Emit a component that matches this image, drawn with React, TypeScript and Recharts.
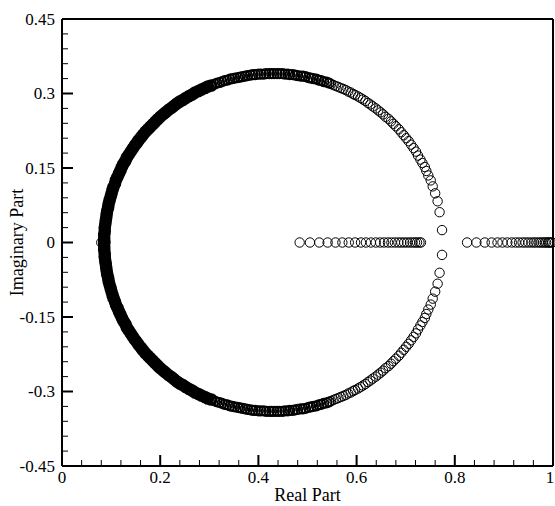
import React from "react"
import { ScatterChart, Scatter, XAxis, YAxis, ReferenceLine } from "recharts"

// upper-half eigenvalues (the lower half are their conjugates)
// outer arc, right side, where the markers are still apart
const ringRe = [0.774, 0.769, 0.765, 0.760, 0.755, 0.751, 0.746, 0.742, 0.739, 0.734, 0.730, 0.725, 0.721, 0.716, 0.711, 0.706, 0.701, 0.696, 0.691, 0.686, 0.680, 0.675, 0.670, 0.665, 0.659, 0.654, 0.649, 0.644, 0.639, 0.633, 0.628, 0.623, 0.618, 0.613, 0.608, 0.603, 0.597, 0.593, 0.588, 0.583, 0.578, 0.573, 0.568, 0.563, 0.558, 0.553, 0.548]
const ringIm = [0.025, 0.061, 0.083, 0.099, 0.113, 0.125, 0.135, 0.144, 0.152, 0.160, 0.167, 0.175, 0.183, 0.190, 0.197, 0.204, 0.210, 0.216, 0.222, 0.228, 0.234, 0.239, 0.244, 0.249, 0.253, 0.258, 0.262, 0.266, 0.270, 0.274, 0.278, 0.281, 0.285, 0.288, 0.291, 0.294, 0.297, 0.299, 0.302, 0.304, 0.307, 0.309, 0.311, 0.313, 0.315, 0.317, 0.319]

// top of the arc, crowded
const midRe = [0.544, 0.539, 0.533, 0.528, 0.523, 0.518, 0.512, 0.507, 0.502, 0.496, 0.491, 0.486, 0.480, 0.475, 0.470, 0.464, 0.460, 0.454, 0.449, 0.443, 0.438, 0.432, 0.427, 0.422, 0.416, 0.411, 0.405, 0.400, 0.394, 0.389, 0.384, 0.378, 0.373, 0.368, 0.363, 0.358, 0.352, 0.347, 0.342, 0.337, 0.331, 0.326, 0.321, 0.316, 0.311]
const midIm = [0.321, 0.323, 0.324, 0.326, 0.327, 0.329, 0.330, 0.331, 0.332, 0.334, 0.335, 0.335, 0.336, 0.337, 0.338, 0.338, 0.339, 0.339, 0.340, 0.340, 0.340, 0.340, 0.340, 0.340, 0.340, 0.339, 0.339, 0.339, 0.338, 0.338, 0.337, 0.336, 0.335, 0.334, 0.333, 0.332, 0.331, 0.330, 0.329, 0.327, 0.326, 0.324, 0.322, 0.321, 0.319]

// left side, markers merge into a solid band
const bandRe = [0.304, 0.297, 0.291, 0.284, 0.278, 0.271, 0.265, 0.259, 0.252, 0.246, 0.240, 0.234, 0.228, 0.223, 0.217, 0.211, 0.206, 0.200, 0.195, 0.190, 0.185, 0.180, 0.175, 0.170, 0.165, 0.161, 0.156, 0.152, 0.148, 0.144, 0.140, 0.136, 0.132, 0.129, 0.125, 0.122, 0.119, 0.116, 0.113, 0.110, 0.108, 0.105, 0.103, 0.101, 0.099, 0.097, 0.095, 0.094, 0.092, 0.091, 0.090, 0.089, 0.088, 0.087, 0.087, 0.086, 0.086, 0.086]
const bandIm = [0.316, 0.314, 0.311, 0.308, 0.305, 0.302, 0.298, 0.295, 0.291, 0.287, 0.284, 0.280, 0.275, 0.271, 0.267, 0.262, 0.258, 0.253, 0.248, 0.243, 0.238, 0.233, 0.228, 0.223, 0.217, 0.212, 0.206, 0.200, 0.195, 0.189, 0.183, 0.177, 0.171, 0.164, 0.158, 0.152, 0.145, 0.139, 0.132, 0.126, 0.119, 0.112, 0.106, 0.099, 0.092, 0.085, 0.078, 0.071, 0.064, 0.057, 0.050, 0.043, 0.036, 0.029, 0.022, 0.015, 0.008, 0.001]

// real eigenvalues
const realEig = [0.080, 0.484, 0.505, 0.524, 0.541, 0.557, 0.571, 0.584, 0.597, 0.609, 0.619, 0.629, 0.639, 0.648, 0.656, 0.664, 0.671, 0.678, 0.685, 0.691, 0.697, 0.703, 0.709, 0.714, 0.719, 0.723, 0.728, 0.731, 0.825, 0.844, 0.861, 0.875, 0.887, 0.897, 0.907, 0.916, 0.924, 0.931, 0.938, 0.944, 0.950, 0.956, 0.961, 0.966, 0.971, 0.975, 0.979, 0.983, 0.986, 0.990, 0.992, 0.995, 0.998]

const xTicks = [0, 0.04, 0.08, 0.12, 0.16, 0.2, 0.24, 0.28, 0.32, 0.36, 0.4, 0.44, 0.48, 0.52, 0.56, 0.6, 0.64, 0.68, 0.72, 0.76, 0.8, 0.84, 0.88, 0.92, 0.96, 1]
const xMajor = [0, 0.2, 0.4, 0.6, 0.8, 1]
const yTicks = [-0.45, -0.42, -0.39, -0.36, -0.33, -0.3, -0.27, -0.24, -0.21, -0.18, -0.15, -0.12, -0.09, -0.06, -0.03, 0, 0.03, 0.06, 0.09, 0.12, 0.15, 0.18, 0.21, 0.24, 0.27, 0.3, 0.33, 0.36, 0.39, 0.42, 0.45]
const yMajor = [-0.45, -0.3, -0.15, 0, 0.15, 0.3, 0.45]

const FONT = "'Liberation Serif', 'Times New Roman', serif"

const conjugatePairs = (re: number[], im: number[]) => {
  const top = re.map((x, i) => ({ x, y: im[i] }))
  return [...top, ...top.map(p => ({ x: p.x, y: -p.y }))]
}

const ringData = conjugatePairs(ringRe, ringIm)
const midData = conjugatePairs(midRe, midIm)
const bandData = conjugatePairs(bandRe, bandIm)
const realData = realEig.map(x => ({ x, y: 0 }))

const isMajor = (list: number[], v: number) => list.some(m => Math.abs(m - v) < 1e-9)

const ring = (w: number) => (props: any) => (
  <circle cx={props.cx} cy={props.cy} r={4.7} fill="none" stroke="#000" strokeWidth={w} />
)

function XTick({ x, y, payload }: any) {
  const major = isMajor(xMajor, payload.value)
  // the last label sits on the window edge, nudge it in
  const lx = payload.value === 1 ? x - 3 : x
  return (
    <g>
      <line x1={x} x2={x} y1={y} y2={y - (major ? 11 : 6)} stroke="#000" strokeWidth={major ? 2 : 1} />
      {major && (
        <text x={lx} y={y + 17} textAnchor="middle" fontFamily={FONT} fontSize={17} fill="#000">
          {String(payload.value)}
        </text>
      )}
    </g>
  )
}

function YTick({ x, y, payload }: any) {
  const major = isMajor(yMajor, payload.value)
  return (
    <g>
      <line x1={x} x2={x + (major ? 11 : 6)} y1={y} y2={y} stroke="#000" strokeWidth={major ? 2 : 1} />
      {major && (
        <text x={x - 7} y={y} textAnchor="end" dominantBaseline="central" fontFamily={FONT} fontSize={17} fill="#000">
          {String(payload.value)}
        </text>
      )}
    </g>
  )
}

function XTitle({ viewBox }: any) {
  const cx = viewBox.x + viewBox.width / 2
  return (
    <text x={cx} y={501} textAnchor="middle" fontFamily={FONT} fontSize={18} fill="#000">Real Part</text>
  )
}

function YTitle({ viewBox }: any) {
  const cx = 17
  const cy = viewBox.y + viewBox.height / 2
  return (
    <text x={cx} y={cy} transform={`rotate(-90 ${cx} ${cy})`} textAnchor="middle" dominantBaseline="central" fontFamily={FONT} fontSize={18} fill="#000">
      Imaginary Part
    </text>
  )
}

export default function App() {
  return (
    <div style={{ position: "absolute", left: 0, top: 0, background: "#fff" }}>
      <ScatterChart width={555} height={506} margin={{ top: 19, right: 2, bottom: 0, left: 0 }}>
        <XAxis
          type="number"
          dataKey="x"
          domain={[0, 1]}
          ticks={xTicks}
          interval={0}
          height={40}
          tickSize={0}
          tickMargin={0}
          tickLine={false}
          axisLine={{ stroke: "#000", strokeWidth: 2 }}
          tick={<XTick />}
          label={<XTitle />}
        />
        <YAxis
          type="number"
          dataKey="y"
          domain={[-0.45, 0.45]}
          ticks={yTicks}
          interval={0}
          width={62}
          tickSize={0}
          tickMargin={0}
          tickLine={false}
          axisLine={{ stroke: "#000", strokeWidth: 2 }}
          tick={<YTick />}
          label={<YTitle />}
        />
        <ReferenceLine y={0.45} stroke="#000" strokeWidth={2} />
        <ReferenceLine x={1} stroke="#000" strokeWidth={2} />
        <Scatter data={bandData} shape={ring(3.2)} isAnimationActive={false} />
        <Scatter data={midData} shape={ring(1.7)} isAnimationActive={false} />
        <Scatter data={ringData} shape={ring(1)} isAnimationActive={false} />
        <Scatter data={realData} shape={ring(1)} isAnimationActive={false} />
      </ScatterChart>
    </div>
  )
}
